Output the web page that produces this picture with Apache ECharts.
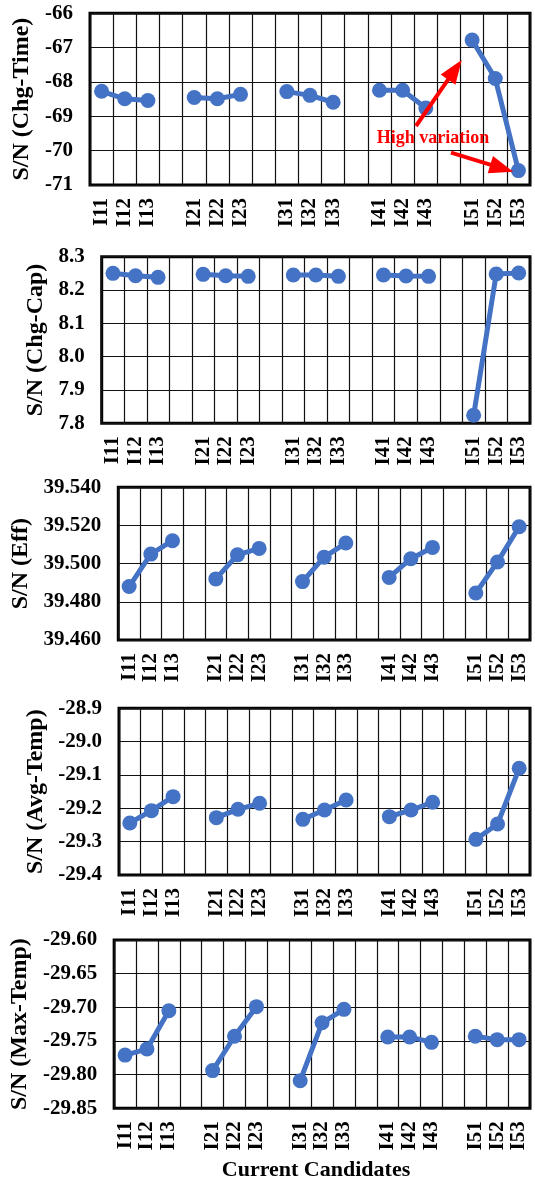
<!DOCTYPE html>
<html><head><meta charset="utf-8">
<script src="https://cdn.jsdelivr.net/npm/echarts@6/dist/echarts.min.js"></script>
<style>html,body{margin:0;padding:0;background:#fff}#c{width:535px;height:1184px}</style>
</head><body><div id="c"></div>
<script>
const categories = ['I11','I12','I13',' ','I21','I22','I23','  ','I31','I32','I33','   ','I41','I42','I43','    ','I51','I52','I53'];
const chgTime = [-68.27,-68.49,-68.54,null,-68.45,-68.49,-68.36,null,-68.28,-68.39,-68.59,null,-68.24,-68.24,-68.76,null,-66.78,-67.90,-70.58];
const chgCap = [8.250,8.243,8.238,null,8.247,8.243,8.241,null,8.245,8.245,8.241,null,8.245,8.242,8.241,null,7.824,8.248,8.251];
const eff = [39.488,39.505,39.512,null,39.492,39.5046,39.508,null,39.4906,39.5034,39.5108,null,39.4928,39.5026,39.5085,null,39.4846,39.5009,39.5193];
const avgTemp = [-29.244,-29.207,-29.165,null,-29.228,-29.203,-29.185,null,-29.233,-29.205,-29.175,null,-29.225,-29.205,-29.182,null,-29.293,-29.247,-29.080];
const maxTemp = [-29.771,-29.762,-29.705,null,-29.794,-29.743,-29.699,null,-29.809,-29.723,-29.703,null,-29.744,-29.744,-29.752,null,-29.743,-29.748,-29.748];
const yNames = ['S/N (Chg-Time)','S/N (Chg-Cap)','S/N (Eff)','S/N (Avg-Temp)','S/N (Max-Temp)'];
const yMin = [-71, 7.8, 39.46, -29.4, -29.85];
const yMax = [-66, 8.3, 39.54, -28.9, -29.60];
const yStep = [1, 0.1, 0.02, 0.1, 0.05];
const yDigits = [0, 1, 3, 1, 2];
const xTitle = 'Current Candidates';
const noteText = 'High variation';

const seriesData = [chgTime, chgCap, eff, avgTemp, maxTemp];
const layout = [
  {left:90, top:13.3, height:171.7, gap:53},
  {left:101.7, top:256.7, height:166.6, gap:49},
  {left:118.3, top:487.3, height:152.7, gap:85},
  {left:119, top:708.3, height:166.7, gap:68},
  {left:114, top:940, height:168.3, gap:79}
];
const FONT = 'Liberation Serif';
const blue = '#4472C4';
const grid = [], xAxis = [], yAxis = [], series = [];
layout.forEach((L, i) => {
  grid.push({left:L.left, right:5, top:L.top, height:L.height, show:true, borderColor:'#000', borderWidth:3, backgroundColor:'transparent'});
  xAxis.push({type:'category', gridIndex:i, data:categories, boundaryGap:true,
    axisLine:{show:false}, axisTick:{show:false},
    splitLine:{show:true, interval:0, lineStyle:{color:'#111', width:1.2}},
    axisLabel:{interval:0, rotate:90, margin:13, fontFamily:FONT, fontWeight:'bold', fontSize:21, color:'#000'}});
  yAxis.push({type:'value', gridIndex:i, min:yMin[i], max:yMax[i], interval:yStep[i],
    name:yNames[i], nameLocation:'middle', nameGap:L.gap,
    nameTextStyle:{fontFamily:FONT, fontWeight:'bold', fontSize:24, color:'#000'},
    axisLine:{show:false}, axisTick:{show:false},
    splitLine:{show:true, lineStyle:{color:'#111', width:1.2}},
    axisLabel:{margin:17, fontFamily:FONT, fontWeight:'bold', fontSize:21, color:'#000',
      formatter: v => Number(v).toFixed(yDigits[i])}});
  series.push({type:'line', xAxisIndex:i, yAxisIndex:i, data:seriesData[i], connectNulls:false,
    symbol:'circle', symbolSize:15, showSymbol:true,
    lineStyle:{color:blue, width:5}, itemStyle:{color:blue}, z:5});
});

function arrow(x1,y1,x2,y2){
  const ang = Math.atan2(y2-y1, x2-x1), len = 24, w = 9;
  const bx = x2 - len*Math.cos(ang), by = y2 - len*Math.sin(ang);
  const px = -Math.sin(ang)*w, py = Math.cos(ang)*w;
  return [
    {type:'line', shape:{x1:x1,y1:y1,x2:bx+4*Math.cos(ang),y2:by+4*Math.sin(ang)}, style:{stroke:'#FF0000', lineWidth:4}, z:10},
    {type:'polygon', shape:{points:[[x2,y2],[bx+px,by+py],[bx-px,by-py]]}, style:{fill:'#FF0000'}, z:10}
  ];
}

const chart = echarts.init(document.getElementById('c'), null, {renderer:'canvas'});
chart.setOption({
  animation:false,
  grid, xAxis, yAxis, series,
  graphic:[
    {type:'text', x:316, y:1170, style:{text:xTitle, font:'bold 22px "Liberation Serif"', fill:'#000', align:'center', verticalAlign:'middle'}},
    {type:'text', x:376.7, y:138.5, style:{text:noteText, font:'bold 18px "Liberation Serif"', fill:'#FF0000', align:'left', verticalAlign:'middle'}, z:10},
    ...arrow(416,126,461.7,60),
    ...arrow(451,152.7,513.3,171.7)
  ]
});
</script></body></html>
